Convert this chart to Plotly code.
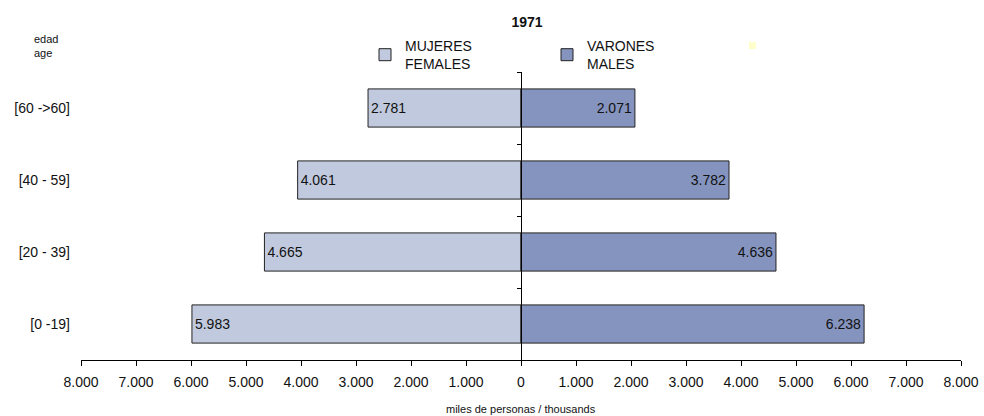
import plotly.graph_objects as go

categories = ['[0 -19]', '[20 - 39]', '[40 - 59]', '[60 ->60]']
mujeres = [5983, 4665, 4061, 2781]
varones = [6238, 4636, 3782, 2071]
x_ticks = [-8000, -7000, -6000, -5000, -4000, -3000, -2000, -1000, 0,
           1000, 2000, 3000, 4000, 5000, 6000, 7000, 8000]


def fmt(v):
    return f"{abs(v):,}".replace(',', '.')


FONT = "Liberation Sans, Arial, sans-serif"
FS = 14
pos = list(range(len(categories)))
L, R, T, B = 81, 23, 72, 56
PW, PH = 984 - L - R, 416 - T - B

fig = go.Figure()
fig.add_trace(go.Bar(
    y=pos, x=[-v for v in mujeres], orientation='h', name='MUJERES<br>FEMALES',
    marker=dict(color='#C0C9DD', line=dict(color='#222222', width=1)),
    width=0.53, text=[fmt(v) for v in mujeres], textposition='inside',
    insidetextanchor='end', constraintext='none',
    textfont=dict(color='#111111', size=FS, family=FONT), hoverinfo='skip'))
fig.add_trace(go.Bar(
    y=pos, x=varones, orientation='h', name='VARONES<br>MALES',
    marker=dict(color='#8594BE', line=dict(color='#222222', width=1)),
    width=0.53, text=[fmt(v) for v in varones], textposition='inside',
    insidetextanchor='end', constraintext='none',
    textfont=dict(color='#111111', size=FS, family=FONT), hoverinfo='skip'))
# invisible helper trace so the central axis is drawn
fig.add_trace(go.Scatter(x=[None], y=[None], yaxis='y2', showlegend=False,
                         hoverinfo='skip'))

fig.update_layout(
    width=984, height=416,
    margin=dict(l=L, r=R, t=T, b=B, autoexpand=False),
    paper_bgcolor='white', plot_bgcolor='white',
    font=dict(family=FONT, size=FS, color='#111111'),
    barmode='relative',
    showlegend=True,
    title=dict(text='<b>1971</b>', x=(527 - L) / PW, xref='paper',
               y=1 - 22 / 416, yref='container', xanchor='center',
               yanchor='middle', font=dict(size=FS, family=FONT)),
    legend=dict(orientation='h', x=(365 - L) / PW, xanchor='left',
                y=1 + (T - 55) / PH, yanchor='middle', yref='paper',
                itemwidth=30, entrywidth=137, entrywidthmode='pixels',
                font=dict(size=FS, family=FONT), bgcolor='rgba(0,0,0,0)',
                traceorder='normal'),
    xaxis=dict(range=[-8000, 8000], tickvals=x_ticks,
               ticktext=[fmt(v) for v in x_ticks], showgrid=False,
               zeroline=False, showline=True, linecolor='black', linewidth=1,
               ticks='outside', ticklen=5, tickcolor='black',
               ticklabelstandoff=4, automargin=False,
               tickfont=dict(size=FS, family=FONT), fixedrange=True),
    yaxis=dict(range=[-0.5, 3.5], tickvals=pos, ticktext=categories,
               showgrid=False, zeroline=False, showline=False, ticks='',
               ticklabelstandoff=10, automargin=False,
               tickfont=dict(size=FS, family=FONT)),
    yaxis2=dict(range=[-0.5, 3.5], overlaying='y', anchor='free',
                position=0.5, tickvals=[-0.5, 0.5, 1.5, 2.5, 3.5],
                showticklabels=False, ticks='outside', ticklen=4,
                tickcolor='black', showline=True, linecolor='black',
                linewidth=1, showgrid=False, zeroline=False,
                automargin=False),
    annotations=[
        dict(text='edad<br>age', xref='paper', yref='paper',
             x=(32 - L) / PW, y=1 + (T - 46.5) / PH, xanchor='left',
             yanchor='middle', align='left', showarrow=False,
             font=dict(size=11, family=FONT)),
        dict(text='miles de personas / thousands', xref='paper',
             yref='paper', x=0.5, y=-(409 - (T + PH)) / PH, xanchor='center',
             yanchor='middle', showarrow=False,
             font=dict(size=11, family=FONT)),
    ],
    shapes=[
        dict(type='rect', xref='paper', yref='paper',
             x0=(749 - L) / PW, x1=(756 - L) / PW,
             y0=1 + (T - 49) / PH, y1=1 + (T - 42) / PH,
             fillcolor='#FFFFCC', line=dict(width=0)),
    ],
)

fig.write_html("out.html", config={'displayModeBar': False},
               post_script="document.body.style.margin='0';"
                           "document.body.style.padding='0';")
